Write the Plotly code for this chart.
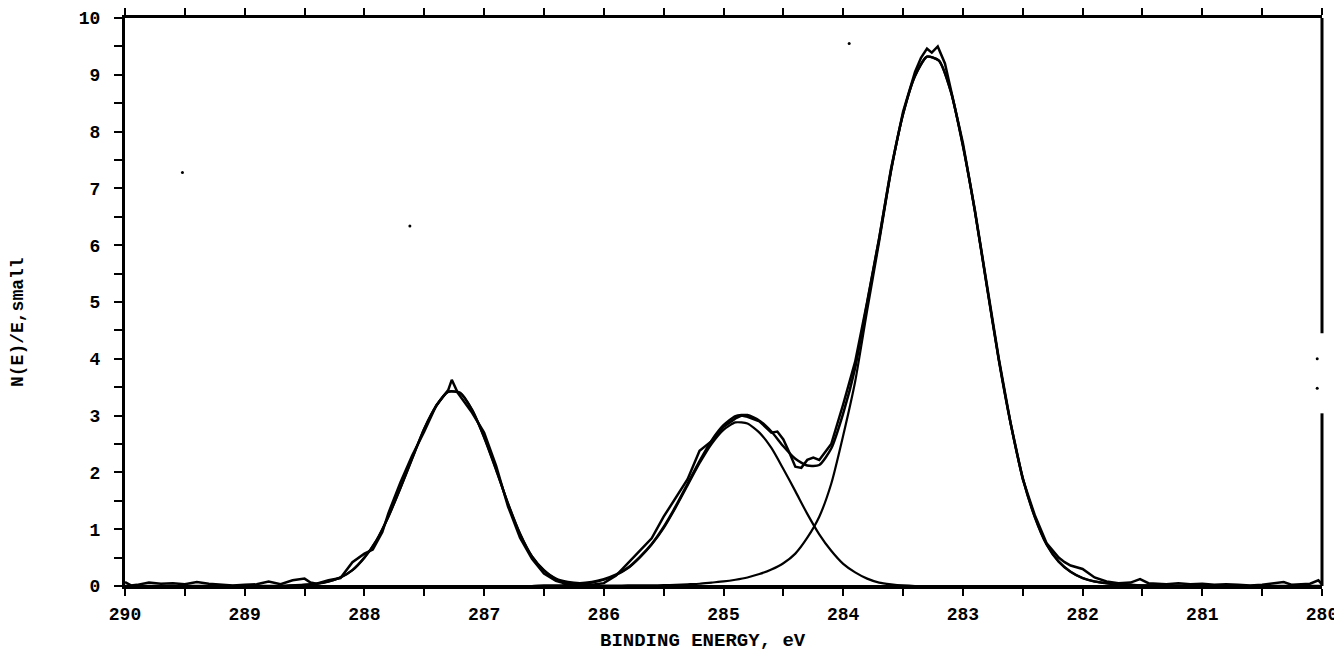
import plotly.graph_objects as go

# ---------------- data ----------------
fit_e = [290.0, 289.5, 289.0, 288.7, 288.6, 288.5, 288.4, 288.3, 288.2, 288.1, 288.0,
         287.9, 287.8, 287.7, 287.6, 287.5, 287.4, 287.3, 287.2, 287.1, 287.0,
         286.9, 286.8, 286.7, 286.6, 286.5, 286.4, 286.3, 286.2, 286.1, 286.0,
         285.9, 285.8, 285.7, 285.6, 285.5, 285.4, 285.3, 285.2, 285.1, 285.0,
         284.9, 284.8, 284.7, 284.6, 284.5, 284.4, 284.3, 284.2, 284.1, 284.0,
         283.9, 283.8, 283.7, 283.6, 283.5, 283.4, 283.3, 283.2, 283.1, 283.0,
         282.9, 282.8, 282.7, 282.6, 282.5, 282.4, 282.3, 282.2, 282.1, 282.0,
         281.9, 281.8, 281.7, 281.6, 281.5, 281.4, 281.0, 280.5, 280.0]

peak1 = [0, 0, 0, 0, 0.01, 0.02, 0.04, 0.08, 0.15, 0.28, 0.50,
         0.80, 1.22, 1.72, 2.25, 2.77, 3.17, 3.42, 3.40, 3.10, 2.62,
         2.05, 1.45, 0.92, 0.52, 0.27, 0.12, 0.05, 0.02, 0.01, 0,
         0, 0, 0, 0, 0, 0, 0, 0, 0, 0,
         0, 0, 0, 0, 0, 0, 0, 0, 0, 0,
         0, 0, 0, 0, 0, 0, 0, 0, 0, 0,
         0, 0, 0, 0, 0, 0, 0, 0, 0, 0,
         0, 0, 0, 0, 0, 0, 0, 0, 0]

peak2 = [0, 0, 0, 0, 0, 0, 0, 0, 0, 0, 0,
         0, 0, 0, 0, 0, 0, 0, 0, 0, 0,
         0, 0, 0, 0, 0.01, 0.01, 0.02, 0.03, 0.06, 0.11,
         0.19, 0.31, 0.50, 0.73, 1.02, 1.38, 1.77, 2.16, 2.50, 2.75,
         2.88, 2.86, 2.70, 2.43, 2.06, 1.67, 1.27, 0.91, 0.62, 0.39,
         0.24, 0.13, 0.06, 0.03, 0.01, 0, 0, 0, 0, 0,
         0, 0, 0, 0, 0, 0, 0, 0, 0, 0,
         0, 0, 0, 0, 0, 0, 0, 0, 0]

peak3 = [0, 0, 0, 0, 0, 0, 0, 0, 0, 0, 0,
         0, 0, 0, 0, 0, 0, 0, 0, 0, 0,
         0, 0, 0, 0, 0, 0, 0, 0, 0, 0.005,
         0.005, 0.01, 0.01, 0.01, 0.015, 0.02, 0.03, 0.04, 0.06, 0.08,
         0.11, 0.15, 0.21, 0.29, 0.40, 0.57, 0.85, 1.22, 1.80, 2.65,
         3.60, 4.85, 6.05, 7.30, 8.30, 8.98, 9.32, 9.25, 8.70, 7.75,
         6.60, 5.28, 3.98, 2.85, 1.90, 1.22, 0.73, 0.43, 0.25, 0.14,
         0.08, 0.05, 0.03, 0.02, 0.01, 0.01, 0, 0, 0]

envelope = [0, 0, 0, 0, 0.01, 0.02, 0.04, 0.08, 0.15, 0.28, 0.50,
            0.80, 1.22, 1.72, 2.25, 2.77, 3.17, 3.42, 3.40, 3.10, 2.62,
            2.05, 1.45, 0.92, 0.52, 0.28, 0.13, 0.07, 0.05, 0.07, 0.12,
            0.20, 0.32, 0.51, 0.74, 1.04, 1.40, 1.80, 2.20, 2.56, 2.83,
            2.99, 3.01, 2.91, 2.72, 2.46, 2.24, 2.12, 2.13, 2.42, 3.04,
            3.84, 4.98, 6.11, 7.33, 8.31, 8.98, 9.32, 9.25, 8.70, 7.75,
            6.60, 5.28, 3.98, 2.85, 1.90, 1.22, 0.73, 0.43, 0.25, 0.14,
            0.08, 0.05, 0.03, 0.02, 0.01, 0.01, 0, 0, 0]

data_e = [290.0, 289.95, 289.9, 289.8, 289.7, 289.6, 289.5, 289.4, 289.3, 289.2, 289.1,
          289.0, 288.9, 288.8, 288.7, 288.6, 288.5, 288.45, 288.4, 288.3, 288.2,
          288.1, 288.0, 287.93, 287.85, 287.8, 287.7, 287.6, 287.5, 287.4, 287.3,
          287.27, 287.22, 287.1, 287.0, 286.9, 286.8, 286.7, 286.6, 286.5, 286.4,
          286.3, 286.2, 286.1, 286.0, 285.9, 285.8, 285.7, 285.6, 285.5, 285.4,
          285.3, 285.2, 285.1, 285.0, 284.9, 284.85, 284.8, 284.7, 284.6, 284.55,
          284.5, 284.45, 284.4, 284.35, 284.3, 284.25, 284.2, 284.1, 284.0, 283.9,
          283.8, 283.7, 283.6, 283.5, 283.4, 283.35, 283.3, 283.26, 283.21, 283.15,
          283.1, 283.0, 282.9, 282.8, 282.7, 282.6, 282.5, 282.4, 282.3, 282.2,
          282.15, 282.1, 282.0, 281.9, 281.8, 281.7, 281.6, 281.52, 281.45, 281.3,
          281.2, 281.1, 281.0, 280.9, 280.8, 280.7, 280.6, 280.5, 280.4, 280.32,
          280.25, 280.1, 280.03, 280.0]
data_v = [0.07, 0.01, 0.02, 0.06, 0.04, 0.05, 0.03, 0.07, 0.04, 0.02, 0.01,
          0.02, 0.03, 0.08, 0.03, 0.10, 0.13, 0.06, 0.04, 0.10, 0.14,
          0.42, 0.57, 0.64, 0.95, 1.28, 1.82, 2.30, 2.72, 3.18, 3.45,
          3.63, 3.40, 3.05, 2.70, 2.12, 1.40, 0.85, 0.48, 0.22, 0.09,
          0.03, 0.02, 0.02, 0.05, 0.18, 0.40, 0.62, 0.84, 1.22, 1.55,
          1.88, 2.38, 2.55, 2.80, 2.95, 3.00, 2.98, 2.90, 2.70, 2.72,
          2.58, 2.35, 2.10, 2.08, 2.22, 2.26, 2.22, 2.50, 3.20, 3.95,
          5.00, 6.12, 7.35, 8.35, 9.05, 9.30, 9.46, 9.39, 9.50, 9.20,
          8.75, 7.80, 6.62, 5.30, 4.00, 2.85, 1.88, 1.25, 0.75, 0.50,
          0.42, 0.36, 0.30, 0.15, 0.08, 0.05, 0.06, 0.12, 0.05, 0.03,
          0.05, 0.03, 0.04, 0.02, 0.03, 0.02, 0.01, 0.02, 0.05, 0.07,
          0.02, 0.04, 0.10, 0.03]

# stray specks on the original print
speck_e = [289.52, 287.62, 283.95, 280.04, 280.04]
speck_v = [7.28, 6.34, 9.55, 4.00, 3.48]

x_ticks = [290 - 0.5 * i for i in range(21)]
x_text = [str(int(v)) if v == int(v) else "" for v in x_ticks]
y_ticks = [0.5 * i for i in range(21)]
y_text = [str(int(v)) if v == int(v) else "" for v in y_ticks]
y_right_ticks = [v for v in y_ticks if v not in (3.0, 3.5, 4.0)]
right_axis_segments = [(0, 3.04), (4.45, 10)]

x_title = "BINDING ENERGY, eV"
y_title = "N(E)/E,small"

# ---------------- figure ----------------
fig = go.Figure()
for comp in (peak1, peak2, peak3):
    fig.add_trace(go.Scatter(x=fit_e, y=comp, mode="lines",
                             line=dict(color="black", width=2.2, shape="spline", smoothing=0.6),
                             hoverinfo="skip"))
fig.add_trace(go.Scatter(x=fit_e, y=envelope, mode="lines",
                         line=dict(color="black", width=2.5, shape="spline", smoothing=0.6)))
fig.add_trace(go.Scatter(x=data_e, y=data_v, mode="lines",
                         line=dict(color="black", width=2.5)))
fig.add_trace(go.Scatter(x=speck_e, y=speck_v, mode="markers",
                         marker=dict(color="black", size=3)))

FONT = dict(family="Liberation Mono", size=18, color="black", weight="bold")
common_x = dict(range=[290, 280], showgrid=False, zeroline=False, automargin=False,
                tickvals=x_ticks, ticklen=7, tickwidth=2, tickcolor="black",
                linecolor="black", linewidth=3, showline=True, mirror="ticks")
common_y = dict(range=[0, 10], showgrid=False, zeroline=False, automargin=False,
                ticklen=8, tickwidth=2, tickcolor="black")

# the page body adds an 8px offset, so the figure is sized to fit inside it
fig.update_layout(
    width=1334, height=651,
    margin=dict(l=117, r=20, t=10, b=73, autoexpand=False),
    plot_bgcolor="white", paper_bgcolor="white",
    showlegend=False,
    xaxis=dict(**common_x, ticks="outside", ticktext=x_text, tickfont=FONT,
               ticklabelstandoff=2),
    xaxis2=dict(**common_x, ticks="inside", overlaying="x", anchor="y",
                showticklabels=False),
    yaxis=dict(**common_y, tickvals=y_ticks, ticktext=y_text, ticks="outside",
               tickfont=FONT, showline=True, linecolor="black", linewidth=3,
               ticklabelstandoff=10),
    yaxis2=dict(**common_y, tickvals=y_ticks, ticks="inside", overlaying="y",
                anchor="x", side="left", showticklabels=False, showline=False),
    yaxis3=dict(**common_y, tickvals=y_right_ticks, ticks="outside", overlaying="y",
                anchor="x", side="right", showticklabels=False, showline=False),
    yaxis4=dict(**common_y, tickvals=y_right_ticks, ticks="inside", overlaying="y",
                anchor="x", side="right", showticklabels=False, showline=False),
)

for y0, y1 in right_axis_segments:
    fig.add_shape(type="line", xref="paper", yref="y", x0=1, x1=1, y0=y0, y1=y1,
                  line=dict(color="black", width=3))

fig.add_annotation(text=x_title, xref="paper", yref="paper", x=0.4825, y=-0.097,
                   showarrow=False, xanchor="center", yanchor="middle",
                   font=dict(family="Liberation Mono", size=19, color="black", weight="bold"))
fig.add_annotation(text=y_title, xref="paper", yref="paper", x=-0.0893, y=0.465,
                   showarrow=False, textangle=-90, xanchor="center", yanchor="middle",
                   font=dict(family="Liberation Mono", size=18, color="black", weight="bold"))

fig.write_html("out.html")
